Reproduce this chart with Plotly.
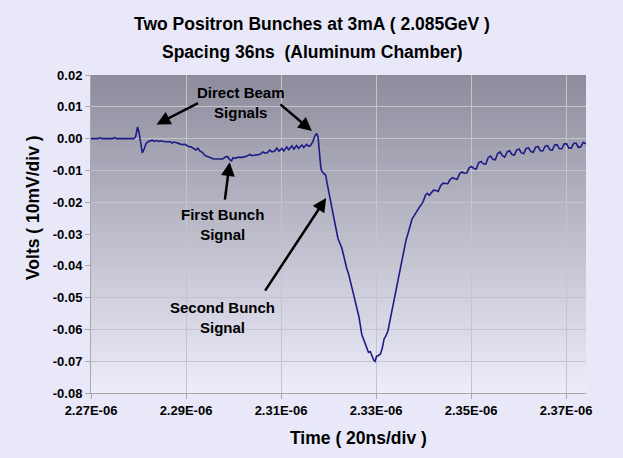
import plotly.graph_objects as go

# ---- data (time in ns, signal in mV) ----
time_ns = [
    2270.0, 2271.5, 2271.9, 2272.3, 2274.5, 2275.0, 2275.4, 2279.0, 2279.4, 2279.8,
    2280.1, 2280.4, 2280.8, 2281.2, 2281.6, 2282.0, 2282.5, 2282.9, 2283.3, 2283.8,
    2284.2, 2284.6, 2285.6, 2286.7, 2287.1, 2287.5, 2288.4, 2289.2, 2289.8, 2290.4,
    2291.0, 2291.7, 2292.1, 2292.5, 2292.9, 2293.5, 2293.9, 2294.5, 2295.2, 2295.8,
    2296.4, 2297.1, 2297.7, 2298.3, 2298.7, 2299.2, 2299.6, 2299.9, 2300.3, 2300.9,
    2301.8, 2302.6, 2303.5, 2303.9, 2304.7, 2305.6, 2306.2, 2306.6, 2307.2, 2307.6,
    2308.1, 2308.7, 2309.1, 2309.6, 2310.2, 2310.6, 2311.2, 2311.6, 2312.3, 2312.7,
    2313.3, 2313.7, 2314.4, 2314.8, 2315.4, 2315.8, 2316.2, 2316.7, 2317.1, 2317.5,
    2317.8, 2318.1, 2318.4, 2318.7, 2319.0, 2319.4, 2319.7, 2320.3, 2320.7, 2321.4,
    2322.0, 2322.8, 2323.3, 2323.8, 2324.3, 2324.9, 2325.4, 2325.9, 2326.4, 2327.0,
    2327.5, 2327.9, 2328.4, 2328.8, 2329.2, 2329.5, 2329.8, 2330.1, 2330.5, 2330.9,
    2331.3, 2331.7, 2332.1, 2332.5, 2332.9, 2333.3, 2333.8, 2334.2, 2334.6, 2335.0,
    2335.5, 2335.9, 2336.3, 2336.7, 2337.1, 2337.6, 2338.0, 2338.4, 2338.8, 2339.2,
    2339.6, 2340.0, 2340.4, 2340.8, 2341.2, 2341.7, 2342.1, 2342.6, 2343.1, 2343.6,
    2344.1, 2344.6, 2345.1, 2345.6, 2346.1, 2346.6, 2347.1, 2347.6, 2348.1, 2348.6,
    2349.1, 2349.6, 2350.1, 2350.6, 2351.1, 2351.6, 2352.1, 2352.6, 2353.1, 2353.6,
    2354.1, 2354.6, 2355.1, 2355.6, 2356.1, 2356.6, 2357.1, 2357.6, 2358.1, 2358.6,
    2359.1, 2359.6, 2360.1, 2360.6, 2361.1, 2361.6, 2362.1, 2362.6, 2363.1, 2363.6,
    2364.1, 2364.6, 2365.1, 2365.6, 2366.1, 2366.6, 2367.1, 2367.6, 2368.1, 2368.6,
    2369.1, 2369.6, 2370.1, 2370.6, 2371.1, 2371.6, 2372.1, 2372.6, 2373.1, 2373.6,
    2374.2,
]
volts_mV = [
    0.0, 0.0, 0.3, 0.0, 0.0, 0.3, 0.0, 0.0, 0.6, 3.7,
    2.0, -1.5, -4.5, -3.2, -1.5, -1.0, -0.8, -0.5, -0.9, -0.6,
    -0.9, -0.7, -1.0, -1.0, -1.4, -1.1, -1.5, -1.9, -1.8, -2.4,
    -2.6, -3.2, -3.6, -3.0, -3.9, -4.4, -5.2, -5.6, -6.0, -6.4,
    -6.4, -6.3, -6.4, -5.8, -5.6, -6.6, -7.0, -6.0, -6.2, -5.9,
    -5.9, -5.6, -5.0, -5.4, -5.2, -4.9, -4.2, -4.6, -4.4, -3.6,
    -4.2, -3.9, -3.0, -3.9, -3.1, -3.9, -2.6, -3.5, -2.3, -3.3,
    -2.2, -3.1, -2.0, -2.8, -1.8, -2.4, -2.2, -1.0, 0.8, 1.6,
    0.5, -4.0, -9.5, -10.5, -10.9, -11.5, -14.0, -19.5, -21.7, -27.0,
    -31.5, -34.4, -38.0, -40.6, -43.0, -46.9, -50.5, -53.2, -56.0, -61.6,
    -63.5, -65.0, -67.2, -67.0, -68.7, -69.6, -70.0, -68.5, -68.2, -67.8,
    -66.0, -63.0, -62.0, -60.5, -57.5, -54.5, -51.0, -48.0, -45.0, -41.5,
    -38.0, -35.5, -32.0, -30.0, -28.0, -25.2, -24.3, -23.2, -22.3, -21.4,
    -20.6, -19.5, -17.8, -17.2, -17.8, -16.9, -16.2, -16.3, -16.6, -14.8,
    -14.0, -14.1, -14.2, -12.9, -12.3, -12.6, -12.8, -11.0, -10.5, -10.9,
    -10.8, -9.2, -8.8, -9.4, -9.6, -7.6, -7.2, -7.9, -8.0, -6.0,
    -5.5, -6.5, -6.7, -4.7, -4.2, -5.4, -5.8, -4.2, -3.8, -5.0,
    -5.2, -3.6, -3.3, -4.5, -4.7, -3.1, -2.9, -4.1, -4.3, -2.7,
    -2.5, -3.8, -3.9, -2.4, -2.2, -3.5, -3.6, -2.0, -1.9, -3.2,
    -3.2, -1.7, -1.6, -3.0, -3.0, -1.5, -1.4, -2.8, -2.6, -1.2,
    -1.6,
]

x_tick_vals = [2.27e-6, 2.29e-6, 2.31e-6, 2.33e-6, 2.35e-6, 2.37e-6]
x_tick_text = ["2.27E-06", "2.29E-06", "2.31E-06", "2.33E-06", "2.35E-06", "2.37E-06"]
y_tick_vals = [0.02, 0.01, 0.0, -0.01, -0.02, -0.03, -0.04, -0.05, -0.06, -0.07, -0.08]
y_tick_text = ["0.02", "0.01", "0.00", "-0.01", "-0.02", "-0.03", "-0.04", "-0.05",
               "-0.06", "-0.07", "-0.08"]

t_sec = [v * 1e-9 for v in time_ns]
volts = [v * 1e-3 for v in volts_mV]

FONT = "Liberation Sans, Arial, Helvetica, sans-serif"

fig = go.Figure()
fig.add_trace(go.Scatter(x=t_sec, y=volts, mode="lines",
                         line=dict(color="#1c1c86", width=1.6), hoverinfo="skip"))

# gradient plot background built from thin strips
top_rgb = (140, 140, 156)
bot_rgb = (236, 236, 250)
n = 100
shapes = []
for i in range(n):
    f = (i + 0.5) / n
    r = round(top_rgb[0] + (bot_rgb[0] - top_rgb[0]) * f)
    g = round(top_rgb[1] + (bot_rgb[1] - top_rgb[1]) * f)
    b = round(top_rgb[2] + (bot_rgb[2] - top_rgb[2]) * f)
    shapes.append(dict(type="rect", xref="paper", yref="paper",
                       x0=0, x1=1, y0=max(0, 1 - (i + 1) / n - 0.002), y1=1 - i / n,
                       fillcolor=f"rgb({r},{g},{b})", line=dict(width=0),
                       layer="below"))

bold = dict(family=FONT, color="black", weight="bold")

# plot area: left 91, top 75, width 495, height 318 (pixels)
def px(xp):
    return (xp - 91) / 495

def py(yp):
    return (393 - yp) / 318

centered = dict(showarrow=False, xanchor="center", yanchor="middle")

annotations = [
    dict(text="Two Positron Bunches at 3mA ( 2.085GeV )", xref="paper", yref="paper",
         x=px(311.5), y=py(24), font=dict(size=17.5, **bold), **centered),
    dict(text="Spacing 36ns \u00a0(Aluminum Chamber)", xref="paper", yref="paper",
         x=px(311.5), y=py(52), font=dict(size=17.5, **bold), **centered),
    dict(text="Time ( 20ns/div )", xref="paper", yref="paper",
         x=px(358), y=py(438), font=dict(size=17.5, **bold), **centered),
    dict(text="Volts ( 10mV/div )", xref="paper", yref="paper", textangle=-90,
         x=px(33), y=py(208), font=dict(size=17.5, **bold), **centered),
    dict(text="Direct Beam<br>Signals", x=2301.6e-9, y=0.0115,
         font=dict(size=15, **bold), **centered),
    dict(text="First Bunch<br>Signal", x=2297.6e-9, y=-0.0269,
         font=dict(size=15, **bold), **centered),
    dict(text="Second Bunch<br>Signal", x=2297.6e-9, y=-0.0561,
         font=dict(size=15, **bold), **centered),
]
arrow_style = dict(text="", showarrow=True, arrowhead=2, arrowsize=1.1,
                   arrowwidth=2.5, arrowcolor="black", standoff=0)
annotations += [
    dict(x=2283.8e-9, y=0.00447, ax=43, ay=-22, **arrow_style),
    dict(x=2316.5e-9, y=0.00236, ax=-33, ay=-28, **arrow_style),
    dict(x=2299.2e-9, y=-0.0074, ax=-5, ay=39, **arrow_style),
    dict(x=2319.5e-9, y=-0.0187, ax=-62, ay=94, **arrow_style),
]

axis_common = dict(showgrid=True, gridcolor="#c4c4c8", gridwidth=1, zeroline=False,
                   showline=True, linecolor="#a8a8a8", linewidth=1,
                   ticks="outside", ticklen=5, tickcolor="#a8a8a8",
                   tickfont=dict(size=13, **bold), automargin=False)

fig.update_layout(
    width=623, height=458,
    margin=dict(l=91, r=37, t=75, b=65, autoexpand=False),
    paper_bgcolor="#e8e8f8", plot_bgcolor="rgba(0,0,0,0)",
    showlegend=False,
    shapes=shapes, annotations=annotations,
    xaxis=dict(range=[2.27e-6, 2.3742e-6], tickvals=x_tick_vals, ticktext=x_tick_text,
               **axis_common),
    yaxis=dict(range=[-0.08, 0.02], tickvals=y_tick_vals, ticktext=y_tick_text,
               **axis_common),
)

fig.write_html("out.html",
               config={"displayModeBar": False},
               post_script="document.body.style.margin='0px';"
                           "document.body.style.background='#e8e8f8';")
